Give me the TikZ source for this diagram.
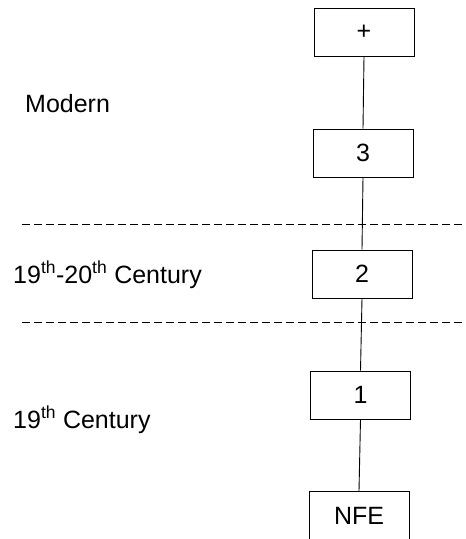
\documentclass[tikz,border=0pt]{standalone}
\usepackage{fontspec}
\setmainfont{Liberation Sans}
\begin{document}
\begin{tikzpicture}[x=1pt,y=-1pt,
  periodbox/.style={draw,line width=0.9pt,minimum width=100pt,minimum height=48pt,inner sep=0pt,font=\fontsize{25}{30}\selectfont},
  eralabel/.style={anchor=base west,inner sep=0pt,font=\fontsize{25}{30}\selectfont},
  link/.style={line width=0.9pt},
  divider/.style={line width=0.9pt,dash pattern=on 8pt off 4pt}]
\useasboundingbox (0,0) rectangle (466,539);
\clip (0,0) rectangle (466,539);

% period boxes, top to bottom
\node[periodbox] (plus) at (364,32.5) {+};
\node[periodbox] (three) at (363,153) {3};
\node[periodbox] (two) at (362,274) {2};
\node[periodbox] (one) at (360.5,395) {1};
\node[periodbox] (nfe) at (359,515.5) {NFE};

% chain
\draw[link] (plus.south) -- (three.north);
\draw[link] (three.south) -- (two.north);
\draw[link] (two.south) -- (one.north);
\draw[link] (one.south) -- (nfe.north);

% era dividers
\coordinate (d1a) at (22,224);
\coordinate (d1b) at (470,224);
\coordinate (d2a) at (22,322);
\coordinate (d2b) at (470,322);
\draw[divider] (d1a) -- (d1b);
\draw[divider] (d2a) -- (d2b);

% era labels
\node[eralabel] (modern) at (25,112) {Modern};
\node[eralabel] (mid) at (13,283) {19\textsuperscript{th}-20\textsuperscript{th} Century};
\node[eralabel] (early) at (13,428) {19\textsuperscript{th} Century};
\end{tikzpicture}
\end{document}
